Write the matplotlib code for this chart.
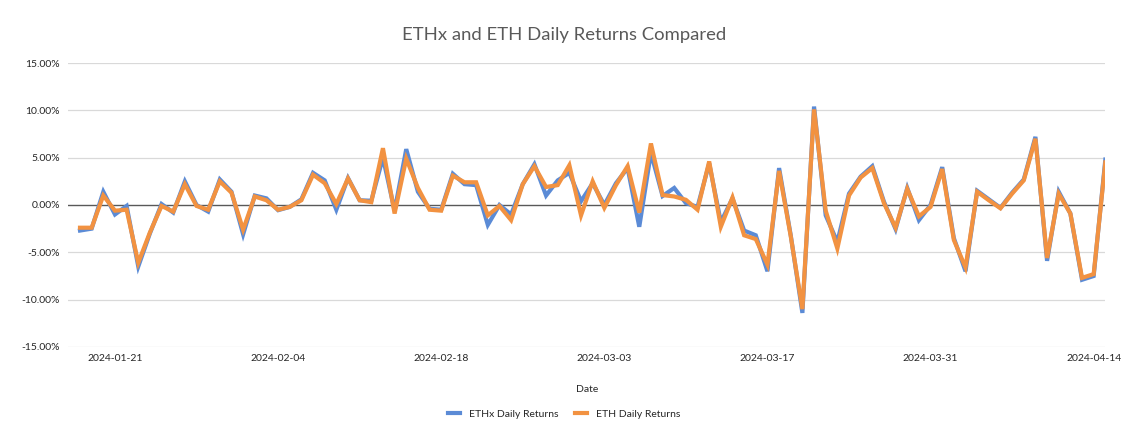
import matplotlib
matplotlib.use("Agg")
import matplotlib.pyplot as plt
import matplotlib.dates as mdates
import pandas as pd

# daily returns in percent, 2024-01-18 .. 2024-04-15
dates = pd.date_range("2024-01-18", "2024-04-15", freq="D")

ethx_returns = [
    -2.7, -2.5, 1.4, -1.0, -0.1, -6.5, -3.0, 0.1, -0.8, 2.5,
    0.0, -0.7, 2.7, 1.4, -3.1, 1.0, 0.7, -0.55, -0.2, 0.6,
    3.4, 2.6, -0.5, 2.85, 0.5, 0.45, 5.0, -0.6, 5.9, 1.4,
    -0.4, -0.5, 3.3, 2.2, 2.1, -2.1, 0.0, -1.0, 2.2, 4.3,
    1.0, 2.6, 3.4, 0.4, 2.3, 0.0, 2.3, 3.9, -2.3, 5.5,
    0.95, 1.8, 0.2, -0.2, 4.4, -1.8, 0.7, -2.7, -3.2, -7.0,
    3.9, -3.2, -11.4, 10.4, -1.1, -3.9, 1.2, 3.0, 4.1, 0.35,
    -2.55, 1.8, -1.6, 0.0, 4.0, -3.5, -7.0, 1.5, 0.6, -0.3,
    1.3, 2.7, 7.2, -5.9, 1.4, -0.9, -7.9, -7.5, 4.8,
]

eth_returns = [
    -2.4, -2.4, 1.0, -0.6, -0.5, -6.1, -2.9, -0.1, -0.7, 2.2,
    -0.1, -0.5, 2.5, 1.3, -2.6, 0.9, 0.5, -0.5, -0.2, 0.5,
    3.2, 2.3, 0.1, 2.8, 0.5, 0.3, 6.0, -0.9, 4.9, 1.8,
    -0.5, -0.6, 3.1, 2.4, 2.4, -1.1, -0.1, -1.6, 2.2, 4.1,
    1.9, 2.1, 4.2, -1.1, 2.5, -0.3, 2.1, 4.1, -0.8, 6.5,
    1.05, 0.9, 0.55, -0.5, 4.6, -2.3, 0.8, -3.2, -3.6, -6.3,
    3.6, -3.3, -11.0, 10.1, -0.6, -4.6, 1.0, 2.9, 3.9, 0.2,
    -2.4, 1.7, -1.2, -0.2, 3.8, -3.7, -6.6, 1.4, 0.5, -0.35,
    1.2, 2.6, 7.0, -5.6, 1.2, -0.9, -7.7, -7.3, 4.5,
]

y_ticks = [-15, -10, -5, 0, 5, 10, 15]
x_ticks = pd.date_range("2024-01-21", "2024-04-14", freq="14D")

plt.rcParams["font.family"] = ["Lato", "DejaVu Sans"]

fig = plt.figure(figsize=(11.28, 4.44), dpi=100)
ax = fig.add_axes([0.0606, 0.2185, 0.9193, 0.6396])

for y in y_ticks:
    if y != 0:
        ax.axhline(y, color="#d9d9d9", lw=0.9, zorder=0)
ax.axhline(0, color="#595959", lw=1.0, zorder=1)

ax.plot(dates, ethx_returns, color="#5b8bd6", lw=3.0, label="ETHx Daily Returns",
        solid_joinstyle="miter", zorder=2)
ax.plot(dates, eth_returns, color="#f29241", lw=3.0, label="ETH Daily Returns",
        solid_joinstyle="miter", zorder=3)

ax.set_xlim(pd.Timestamp("2024-01-17"), pd.Timestamp("2024-04-15"))
ax.set_ylim(-15, 15)
ax.set_yticks(y_ticks)
ax.set_yticklabels([f"{v:.2f}%" for v in y_ticks])
ax.set_xticks(x_ticks)
ax.xaxis.set_major_formatter(mdates.DateFormatter("%Y-%m-%d"))
ax.tick_params(axis="both", length=0, labelsize=7.5, colors="#262626")
ax.tick_params(axis="y", pad=6)
ax.tick_params(axis="x", pad=5)
for s in ax.spines.values():
    s.set_visible(False)

ax.set_xlabel("Date", fontsize=7.5, color="#262626", labelpad=16)
fig.suptitle("ETHx and ETH Daily Returns Compared", fontsize=13.3, color="#595959",
             y=0.94)

fig.legend(loc="center", bbox_to_anchor=(0.5, 0.067), ncol=2, frameon=False,
           fontsize=7.5, handlelength=1.2, handletextpad=0.8, columnspacing=1.6,
           labelcolor="#262626")

fig.savefig("out.png", dpi=100)
